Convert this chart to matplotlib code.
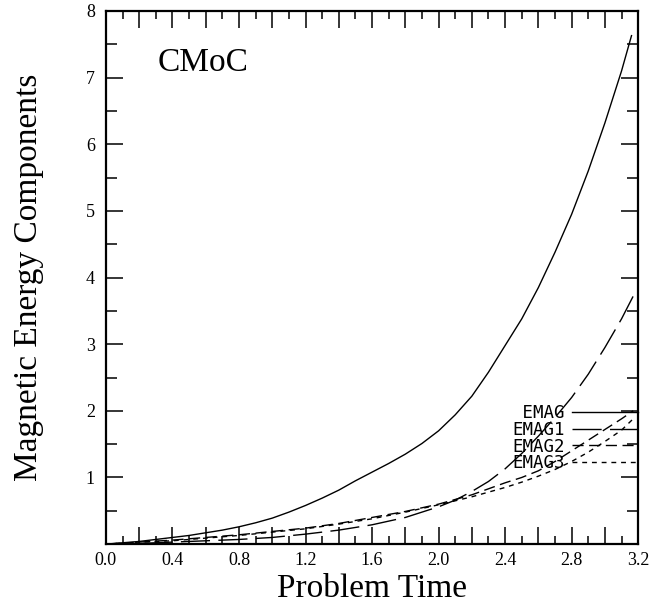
import matplotlib
matplotlib.use("Agg")
import matplotlib.pyplot as plt
from matplotlib.ticker import FixedLocator

# ---- data ----
t_emag = [0.0, 0.1, 0.2, 0.3, 0.4, 0.5, 0.6, 0.7, 0.8, 0.9, 1.0, 1.1, 1.2, 1.3, 1.4,
          1.5, 1.6, 1.7, 1.8, 1.9, 2.0, 2.1, 2.2, 2.3, 2.4, 2.5, 2.6, 2.7, 2.8, 2.9,
          3.0, 3.1, 3.16]
emag = [0.0, 0.02, 0.04, 0.07, 0.10, 0.13, 0.17, 0.21, 0.26, 0.32, 0.39, 0.48, 0.58,
        0.69, 0.81, 0.95, 1.08, 1.21, 1.35, 1.51, 1.70, 1.94, 2.22, 2.58, 2.98, 3.38,
        3.85, 4.38, 4.95, 5.60, 6.32, 7.10, 7.63]

t_comp = [0.0, 0.2, 0.4, 0.6, 0.8, 1.0, 1.2, 1.4, 1.6, 1.8, 2.0, 2.1, 2.2, 2.3, 2.4,
          2.5, 2.6, 2.7, 2.8, 2.9, 3.0, 3.1, 3.17]
emag1 = [0.0, 0.01, 0.03, 0.05, 0.07, 0.10, 0.15, 0.21, 0.29, 0.40, 0.56, 0.66, 0.79,
         0.94, 1.13, 1.36, 1.62, 1.90, 2.20, 2.55, 2.95, 3.38, 3.72]
emag2 = [0.0, 0.03, 0.06, 0.10, 0.14, 0.19, 0.24, 0.31, 0.40, 0.49, 0.60, 0.67, 0.74,
         0.83, 0.92, 1.00, 1.10, 1.24, 1.40, 1.56, 1.72, 1.88, 2.00]
emag3 = [0.0, 0.03, 0.05, 0.09, 0.13, 0.18, 0.23, 0.30, 0.38, 0.48, 0.59, 0.65, 0.71,
         0.78, 0.85, 0.93, 1.02, 1.12, 1.24, 1.38, 1.54, 1.71, 1.88]

series_labels = ["EMAG", "EMAG1", "EMAG2", "EMAG3"]
x_ticks = [0.0, 0.4, 0.8, 1.2, 1.6, 2.0, 2.4, 2.8, 3.2]
x_ticklabels = ["0.0", "0.4", "0.8", "1.2", "1.6", "2.0", "2.4", "2.8", "3.2"]
y_ticks = [1, 2, 3, 4, 5, 6, 7, 8]
y_ticklabels = ["1", "2", "3", "4", "5", "6", "7", "8"]
panel_title = "CMoC"
x_label = "Problem Time"
y_label = "Magnetic Energy Components"

# ---- figure ----
serif = ["Liberation Serif", "DejaVu Serif"]
fig = plt.figure(figsize=(6.62, 6.10), dpi=100)
ax = fig.add_axes([0.160, 0.108, 0.804, 0.874])

ax.plot(t_emag, emag, color="black", lw=1.0, label=" " + series_labels[0])
ax.plot(t_comp, emag1, color="black", lw=1.0, dashes=(21, 6), label=series_labels[1])
ax.plot(t_comp, emag2, color="black", lw=1.0, dashes=(8, 4), label=series_labels[2])
ax.plot(t_comp, emag3, color="black", lw=1.0, dashes=(3.5, 3.5), label=series_labels[3])

ax.set_xlim(0, 3.2)
ax.set_ylim(0, 8)

ax.xaxis.set_major_locator(FixedLocator(x_ticks))
ax.set_xticklabels(x_ticklabels)
ax.xaxis.set_minor_locator(FixedLocator([i / 10 for i in range(1, 32, 2)]))
ax.yaxis.set_major_locator(FixedLocator(y_ticks))
ax.set_yticklabels(y_ticklabels)
ax.yaxis.set_minor_locator(FixedLocator([i + 0.5 for i in range(8)]))

ax.tick_params(which="both", direction="in", top=True, right=True, width=1.1,
               colors="black")
ax.tick_params(axis="x", which="major", length=12, pad=6, labelsize=13)
ax.tick_params(axis="x", which="minor", length=6)
ax.tick_params(axis="y", which="major", length=12, pad=8, labelsize=13)
ax.tick_params(axis="y", which="minor", length=8)
for lab in ax.get_xticklabels() + ax.get_yticklabels():
    lab.set_fontfamily(serif)

# extra long unlabelled ticks at 0.2, 0.6, ...
long_unlabelled = [i / 10 for i in range(2, 32, 4)]
for side in ("bottom", "top"):
    sec = ax.secondary_xaxis(side)
    sec.set_xticks(long_unlabelled)
    sec.tick_params(direction="in", length=12, width=1.1,
                    labelbottom=False, labeltop=False)
    sec.spines[side].set_visible(False)

for s in ax.spines.values():
    s.set_linewidth(1.6)

ax.set_xlabel(x_label, fontsize=24, family=serif)
ax.xaxis.set_label_coords(0.5, -0.055)
ax.set_ylabel(y_label, fontsize=24, family=serif)
ax.yaxis.set_label_coords(-0.117, 0.5)

ax.text(0.31, 7.22, panel_title, fontsize=24, family=serif, va="center", ha="left")

leg = ax.legend(loc="lower right", bbox_to_anchor=(1.0, 0.135), frameon=False,
                markerfirst=False, handlelength=3.8, handletextpad=0.45,
                labelspacing=-0.08, borderpad=0, borderaxespad=0,
                prop={"family": "DejaVu Sans Mono", "size": 12.5})

fig.savefig("out.png", dpi=100, facecolor="white")
